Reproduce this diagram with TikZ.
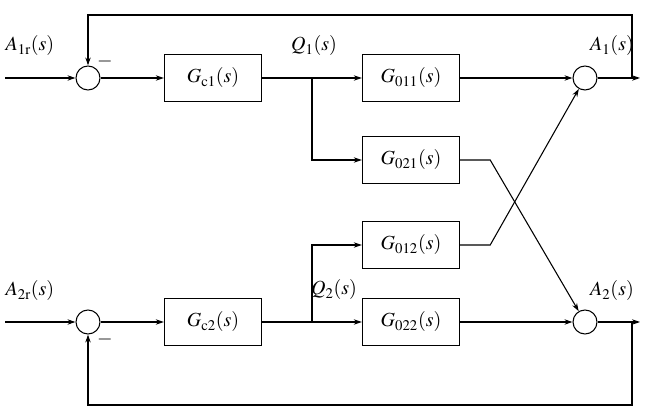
\documentclass[tikz,border=0pt]{standalone}
\usepackage{mathptmx}
\usepackage{fontspec}
\setmainfont{Liberation Serif}
\usetikzlibrary{arrows.meta}
\begin{document}
\begin{tikzpicture}[x=0.75pt,y=-0.75pt,
 blk/.style={draw,line width=0.8pt,minimum width=73pt,minimum height=35pt,inner sep=0pt,font=\fontsize{15}{17}\selectfont},
 sum/.style={draw,circle,line width=0.8pt,minimum size=18pt,inner sep=0pt},
 lab/.style={font=\fontsize{15}{17}\selectfont},
 ar/.style={-{Stealth[length=6pt,width=4pt]},line width=0.8pt},
 ln/.style={line width=0.8pt}]
\useasboundingbox (0,0) rectangle (650,420);
\node[sum] (s1) at (88,78) {};
\node[sum] (s2) at (88,322) {};
\node[sum] (s3) at (585,78) {};
\node[sum] (s4) at (585,322) {};
\node[blk] (gc1) at (213,78) {$G_{\mathrm{c}1}(s)$};
\node[blk] (gc2) at (213,322) {$G_{\mathrm{c}2}(s)$};
\node[blk] (g11) at (411,78) {$G_{011}(s)$};
\node[blk] (g21) at (411,160) {$G_{021}(s)$};
\node[blk] (g12) at (411,245) {$G_{012}(s)$};
\node[blk] (g22) at (411,322) {$G_{022}(s)$};
\coordinate (in1) at (5,78); \coordinate (in2) at (5,322);
\coordinate (out1) at (640,78); \coordinate (out2) at (640,322);
\coordinate (b1) at (312,78); \coordinate (b2) at (312,322);
\coordinate (f1) at (632,78); \coordinate (f2) at (632,322);
\draw[ar] (in1) -- (s1);
\draw[ar] (in2) -- (s2);
\draw[ar] (s1) -- (gc1);
\draw[ar] (s2) -- (gc2);
\draw[ar] (gc1) -- (g11);
\draw[ar] (gc2) -- (g22);
\draw[ar] (b1) |- (g21);
\draw[ar] (b2) |- (g12);
\draw[ar] (g11) -- (s3);
\draw[ar] (g22) -- (s4);
\draw[ar] (s3) -- (out1);
\draw[ar] (s4) -- (out2);
\draw[ar] (g21.east) -- ++(30,0) -- (s4);
\draw[ar] (g12.east) -- ++(30,0) -- (s3);
\draw[ar] (f1) |- (88,15) -- (s1);
\draw[ar] (f2) |- (88,405) -- (s2);
\node[lab] (l1) at (30,46) {$A_{1\mathrm{r}}(s)$};
\node[lab] (l2) at (30,291) {$A_{2\mathrm{r}}(s)$};
\node[lab] (l3) at (612,46) {$A_1(s)$};
\node[lab] (l4) at (612,291) {$A_2(s)$};
\node[lab] (q1) at (314,46) {$Q_1(s)$};
\node[lab] (q2) at (334,290) {$Q_2(s)$};
\node[lab] (m1) at (105,62) {$-$};
\node[lab] (m2) at (105,340) {$-$};
\end{tikzpicture}
\end{document}
